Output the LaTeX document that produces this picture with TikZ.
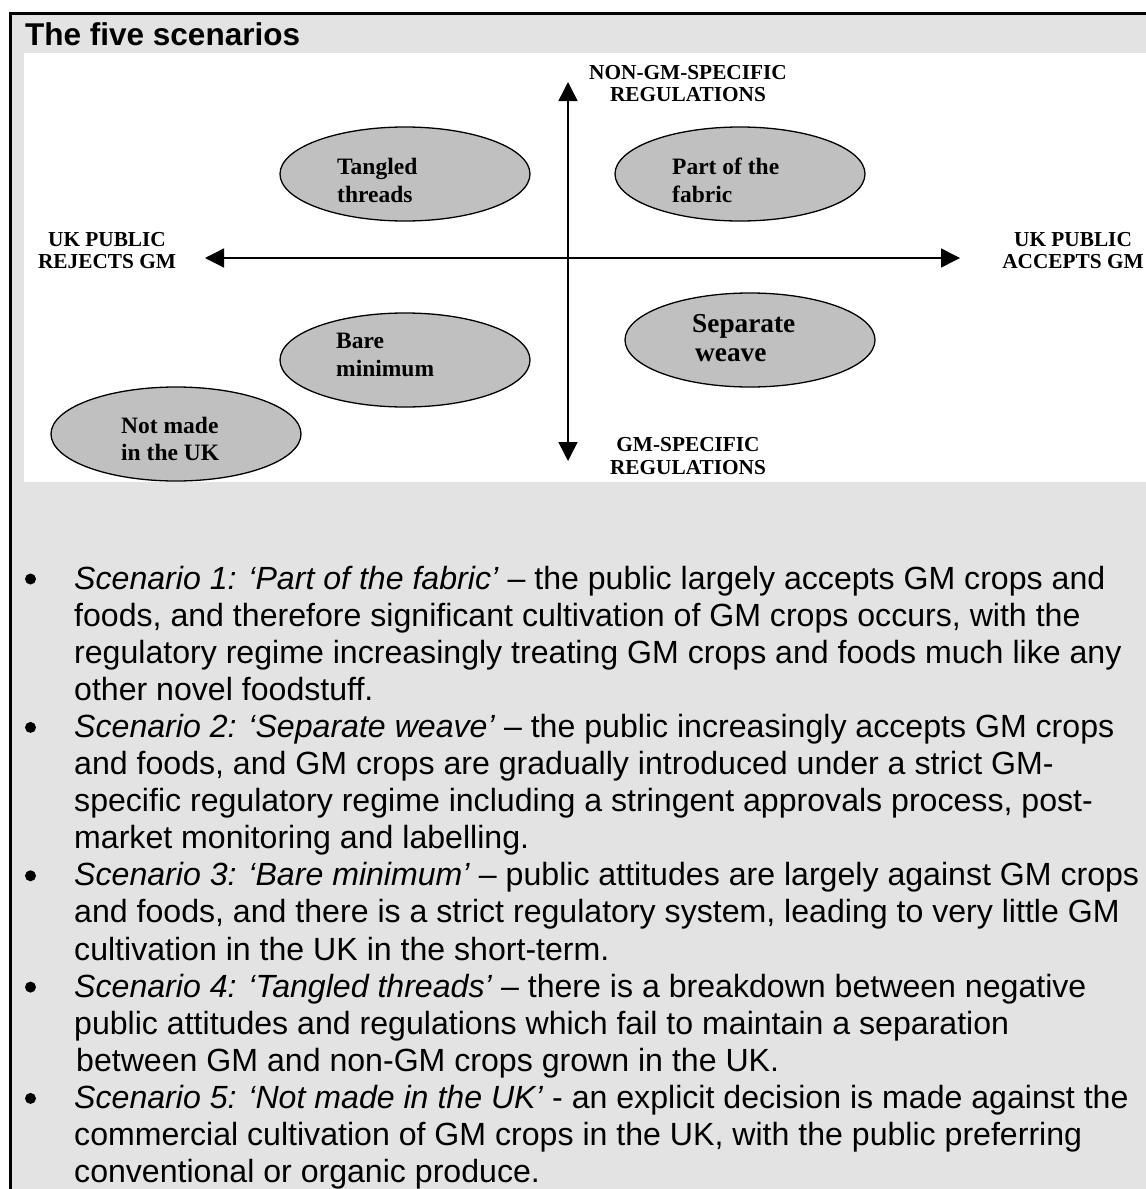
\documentclass[tikz,border=0pt]{standalone}
\usepackage{fontspec}
\setmainfont{Liberation Sans}
\newfontfamily\serifbold{Liberation Serif}
\usetikzlibrary{shapes.geometric,arrows.meta}
\definecolor{panelgray}{HTML}{E3E3E3}
\definecolor{ovalgray}{HTML}{C0C0C0}
\begin{document}
\begin{tikzpicture}[x=1pt,y=-1pt,
  axislabel/.style={font=\serifbold\bfseries\fontsize{21.3}{22}\selectfont, anchor=base, inner sep=0pt},
  ovaltext/.style={font=\serifbold\bfseries\fontsize{23.5}{28}\selectfont, anchor=base west, inner sep=0pt},
  bigovaltext/.style={font=\serifbold\bfseries\fontsize{27.3}{30}\selectfont, anchor=base west, inner sep=0pt},
  scenario/.style={ellipse, draw, line width=1.3pt, fill=ovalgray, minimum width=250pt, minimum height=94pt, inner sep=0pt},
  bodyline/.style={font=\fontsize{32.1}{37}\selectfont, anchor=base west, inner sep=0pt},
  bulletdot/.style={circle, fill=black, minimum size=11pt, inner sep=0pt},
  axis/.style={line width=1.5pt, {Triangle[length=19pt,width=19pt]}-{Triangle[length=19pt,width=19pt]}}]

\useasboundingbox (0,0) rectangle (1146,1189);

% panel, frame and the white chart area
\fill[panelgray] (10,13) rectangle (1146,1189);
\draw[line width=3pt] (10,1189) -- (10,13) -- (1146,13);
\fill[white] (24,53) rectangle (1146,482);

\node[font=\bfseries\fontsize{31.5}{36}\selectfont, anchor=base west, inner sep=0pt] (title) at (25,45) {The five scenarios};

% axes
\coordinate (ytop) at (568,82);
\coordinate (ybot) at (568,461);
\coordinate (xleft) at (205,258);
\coordinate (xright) at (960,258);
\draw[axis] (ybot) -- (ytop);
\draw[axis] (xleft) -- (xright);

% axis labels
\node[axislabel] (nongm1) at (688,79.5) {NON-GM-SPECIFIC};
\node[axislabel] (nongm2) at (688,101.5) {REGULATIONS};
\node[axislabel] (gm1) at (688,451) {GM-SPECIFIC};
\node[axislabel] (gm2) at (688,474) {REGULATIONS};
\node[axislabel] (rej1) at (107,246.5) {UK PUBLIC};
\node[axislabel] (rej2) at (107,268.5) {REJECTS GM};
\node[axislabel] (acc1) at (1073,246.5) {UK PUBLIC};
\node[axislabel] (acc2) at (1073,268.5) {ACCEPTS GM};

% scenario ovals
\node[scenario] (tangled) at (405,174) {};
\node[scenario] (fabric) at (740,174) {};
\node[scenario] (bare) at (405,360) {};
\node[scenario] (weave) at (750,340) {};
\node[scenario] (notmade) at (176,434) {};

\node[ovaltext] (tangledA) at (337,174) {Tangled};
\node[ovaltext] (tangledB) at (337,202) {threads};
\node[ovaltext] (fabricA) at (672,174) {Part of the};
\node[ovaltext] (fabricB) at (672,202) {fabric};
\node[ovaltext] (bareA) at (336,348) {Bare};
\node[ovaltext] (bareB) at (336,376) {minimum};
\node[bigovaltext] (weaveA) at (692,332) {Separate};
\node[bigovaltext] (weaveB) at (695,361) {weave};
\node[ovaltext] (notmadeA) at (121,433.5) {Not made};
\node[ovaltext] (notmadeB) at (121,460.5) {in the UK};

% bullet list
\node[bulletdot] (b1) at (30.5,579) {};
\node[bodyline] (s1a) at (74,589) {\textit{Scenario 1: ‘Part of the fabric’} – the public largely accepts GM crops and};
\node[bodyline] (s1b) at (74,626.1) {foods, and therefore significant cultivation of GM crops occurs, with the};
\node[bodyline] (s1c) at (74,663.2) {regulatory regime increasingly treating GM crops and foods much like any};
\node[bodyline] (s1d) at (74,700.3) {other novel foodstuff.};

\node[bulletdot] (b2) at (30.5,727.4) {};
\node[bodyline] (s2a) at (74,737.4) {\textit{Scenario 2: ‘Separate weave’} – the public increasingly accepts GM crops};
\node[bodyline] (s2b) at (74,774.5) {and foods, and GM crops are gradually introduced under a strict GM-};
\node[bodyline] (s2c) at (74,811.6) {specific regulatory regime including a stringent approvals process, post-};
\node[bodyline] (s2d) at (74,848.7) {market monitoring and labelling.};

\node[bulletdot] (b3) at (30.5,875.8) {};
\node[bodyline] (s3a) at (74,885.8) {\textit{Scenario 3: ‘Bare minimum’} – public attitudes are largely against GM crops};
\node[bodyline] (s3b) at (74,922.9) {and foods, and there is a strict regulatory system, leading to very little GM};
\node[bodyline] (s3c) at (74,960) {cultivation in the UK in the short-term.};

\node[bulletdot] (b4) at (30.5,987.1) {};
\node[bodyline] (s4a) at (74,997.1) {\textit{Scenario 4: ‘Tangled threads’} – there is a breakdown between negative};
\node[bodyline] (s4b) at (74,1034.2) {public attitudes and regulations which fail to maintain a separation};
\node[bodyline] (s4c) at (76,1071.3) {between GM and non-GM crops grown in the UK.};

\node[bulletdot] (b5) at (30.5,1098.4) {};
\node[bodyline] (s5a) at (74,1108.4) {\textit{Scenario 5: ‘Not made in the UK’} - an explicit decision is made against the};
\node[bodyline] (s5b) at (74,1145.5) {commercial cultivation of GM crops in the UK, with the public preferring};
\node[bodyline] (s5c) at (74,1182.6) {conventional or organic produce.};
\end{tikzpicture}
\end{document}
